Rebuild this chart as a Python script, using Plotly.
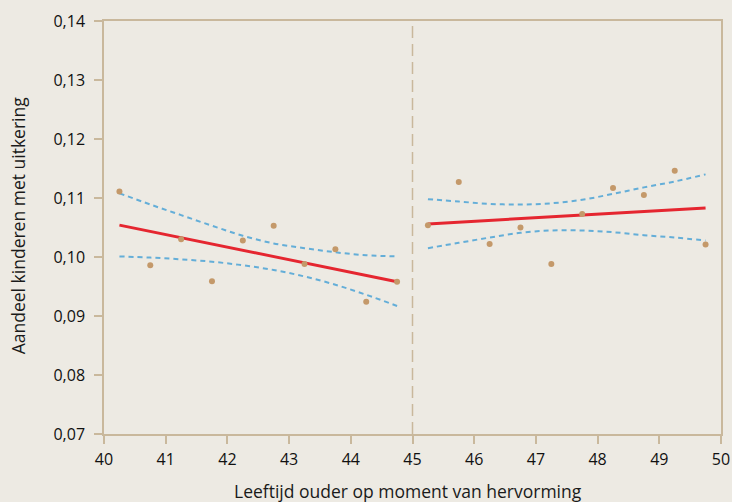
import plotly.graph_objects as go

# Left of threshold
x_left = [40.25, 40.75, 41.25, 41.75, 42.25, 42.75, 43.25, 43.75, 44.25, 44.75]
y_left = [0.1111, 0.0986, 0.1030, 0.0959, 0.1028, 0.1053, 0.0988, 0.1013, 0.0924, 0.0958]
fit_left = [0.1054, 0.0958]
ci_up_left = [0.1108, 0.1089, 0.1071, 0.1053, 0.1036, 0.1023, 0.1015, 0.1008, 0.1003, 0.1001]
ci_lo_left = [0.1001, 0.0999, 0.0996, 0.0992, 0.0986, 0.0978, 0.0967, 0.0953, 0.0936, 0.0917]

# Right of threshold
x_right = [45.25, 45.75, 46.25, 46.75, 47.25, 47.75, 48.25, 48.75, 49.25, 49.75]
y_right = [0.1054, 0.1127, 0.1022, 0.1050, 0.0988, 0.1073, 0.1117, 0.1105, 0.1146, 0.1021]
fit_right = [0.1056, 0.1083]
ci_up_right = [0.1098, 0.1094, 0.1090, 0.1089, 0.1091, 0.1097, 0.1107, 0.1118, 0.1128, 0.1140]
ci_lo_right = [0.1015, 0.1024, 0.1033, 0.1041, 0.1045, 0.1045, 0.1042, 0.1037, 0.1033, 0.1028]

threshold = 45
x_ticks = [40, 41, 42, 43, 44, 45, 46, 47, 48, 49, 50]
y_ticks = [0.07, 0.08, 0.09, 0.10, 0.11, 0.12, 0.13, 0.14]
x_title = "Leeftijd ouder op moment van hervorming"
y_title = "Aandeel kinderen met uitkering"

BG = "#edeae3"
AX = "#c9b89c"
DOT = "#c4996a"
RED = "#e52630"
BLUE = "#64aed8"
FONT = "Open Sans"

fig = go.Figure()

for xs, up, lo in [(x_left, ci_up_left, ci_lo_left), (x_right, ci_up_right, ci_lo_right)]:
    for ys in (up, lo):
        fig.add_trace(go.Scatter(x=xs, y=ys, mode="lines",
                                 line=dict(color=BLUE, width=2, dash="5px,4px", shape="spline"),
                                 hoverinfo="skip", showlegend=False))

for xs, fit in [(x_left, fit_left), (x_right, fit_right)]:
    fig.add_trace(go.Scatter(x=[xs[0], xs[-1]], y=fit, mode="lines",
                             line=dict(color=RED, width=3), showlegend=False))

fig.add_trace(go.Scatter(x=x_left + x_right, y=y_left + y_right, mode="markers",
                         marker=dict(color=DOT, size=6), showlegend=False))

fig.add_shape(type="line", xref="x", yref="paper", x0=threshold, x1=threshold, y0=0, y1=1,
              line=dict(color=AX, width=1.5, dash="12px,6px"), layer="below")

fig.add_annotation(text=x_title, xref="paper", yref="paper", x=0.4935, y=-0.138,
                   showarrow=False, xanchor="center", yanchor="middle",
                   font=dict(family=FONT, size=17.5, color="#1a1a1a"))
fig.add_annotation(text=y_title, xref="paper", yref="paper", x=-0.139, y=0.506,
                   showarrow=False, xanchor="center", yanchor="middle", textangle=-90,
                   font=dict(family=FONT, size=17.5, color="#1a1a1a"))

fig.update_layout(
    width=732, height=502,
    paper_bgcolor=BG, plot_bgcolor=BG,
    margin=dict(l=104, r=11, t=21, b=68),
    separators=",.",
    font=dict(family=FONT, size=16, color="#111111"),
    showlegend=False,
)
fig.update_xaxes(
    range=[40, 50], tickvals=x_ticks, ticktext=[str(v) for v in x_ticks],
    showgrid=False, zeroline=False, automargin=False,
    showline=True, linecolor=AX, linewidth=1.5, mirror=True,
    ticks="outside", ticklen=8, tickcolor=AX, tickwidth=1.5,
    tickfont=dict(size=16), ticklabelstandoff=2,
)
fig.update_yaxes(
    range=[0.07, 0.14], tickvals=y_ticks, tickformat=".2f",
    showgrid=False, zeroline=False, automargin=False,
    showline=True, linecolor=AX, linewidth=1.5, mirror=True,
    ticks="outside", ticklen=8, tickcolor=AX, tickwidth=1.5,
    tickfont=dict(size=16), ticklabelstandoff=6,
)

fig.write_html("out.html", config={"displayModeBar": False},
               post_script="document.body.style.margin='0';document.body.style.background='%s';" % BG)
